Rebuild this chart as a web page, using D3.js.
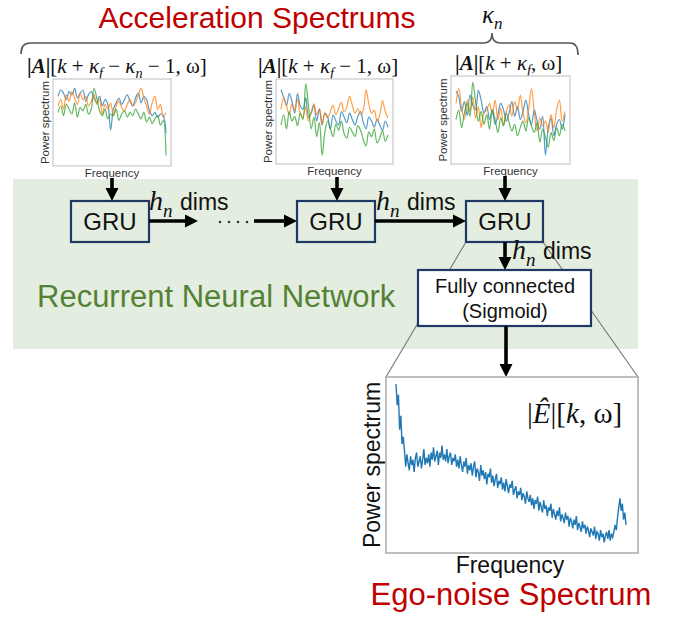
<!DOCTYPE html>
<meta charset="utf-8">
<style>
body { margin: 0; background: #fff; }
text { font-family: "Liberation Sans", Arial, sans-serif; }
.math { font-family: "Liberation Serif", "DejaVu Serif", serif; }
</style>
<svg width="680" height="619"></svg>
<script src="https://d3js.org/d3.v7.min.js"></script>
<script>

var svg = d3.select("svg");

// small spectra (values 0-100)
var p1Blue   = [82,90,86,78,88,84,92,80,86,90,76,84,88,80,74,82,70,78,72,40,66,74,80,72,78,84,76,70,80,86,74,82,78,64,58,62,56,60,58,36];
var p1Orange = [70,78,66,84,76,88,80,72,86,78,82,70,76,84,72,78,60,72,66,74,58,70,76,68,64,72,78,70,74,84,92,80,70,60,74,82,66,72,56,62];
var p1Green  = [62,70,58,72,66,60,74,56,68,64,72,60,66,92,80,64,58,66,54,60,58,66,52,60,64,56,62,58,66,60,54,62,50,56,48,54,58,46,52,8];

var p2Blue   = [90,80,70,85,75,60,85,70,65,80,55,60,70,50,65,45,60,55,40,58,50,45,62,55,48,60,52,45,56,62,48,40,55,50,42,52,45,38,50,42];
var p2Orange = [65,80,70,58,72,64,78,60,55,68,50,62,72,58,66,46,60,54,62,70,58,66,74,62,68,82,70,60,66,58,64,90,72,60,64,50,58,76,62,54];
var p2Green  = [45,58,40,62,50,56,44,60,52,98,70,40,55,30,48,6,36,50,40,30,46,38,50,34,28,42,36,30,44,38,26,18,36,30,40,22,28,38,24,32];

var p3Blue   = [85,78,60,72,55,80,68,62,86,74,58,66,50,62,44,56,70,62,48,58,72,54,66,50,60,74,56,44,62,48,38,54,6,40,52,30,44,50,38,56];
var p3Orange = [70,88,64,50,74,60,78,52,66,40,58,62,70,56,74,50,64,44,60,68,54,72,62,80,58,46,64,88,60,36,52,42,48,34,56,40,62,74,48,60];
var p3Green  = [50,62,40,58,70,54,96,72,48,60,44,56,38,62,50,34,52,42,58,46,36,44,30,40,48,36,52,42,34,46,22,38,28,16,34,24,40,30,44,36];

// estimated ego-noise spectrum
var egoNoise = [96,84,90,70,78,62,66,
  58,49,56,51,47,55,50,53,46,54,57,49,52,55,48,53,59,50,54,51,56,49,57,53,60,52,55,58,50,57,54,61,53,56,52,59,51,55,57,50,54,52,56,49,
  53,48,55,50,46,52,49,54,45,50,47,51,44,49,52,43,48,46,41,50,44,47,42,46,39,45,43,48,40,44,38,42,45,37,41,39,43,36,40,35,
  42,38,34,39,37,41,33,36,38,31,35,33,37,30,34,32,28,35,31,29,33,27,31,25,30,28,32,24,29,26,23,30,25,27,21,26,24,28,20,25,
  22,19,24,21,26,18,22,20,17,23,19,21,15,20,18,14,19,16,21,13,17,15,12,18,14,16,11,15,13,9,14,12,10,15,8,12,11,7,13,9,
  11,6,10,12,8,13,7,11,9,
  12,16,13,20,26,31,24,28,19,23,16];

var seriesColors = ["#1f77b4", "#ff7f0e", "#2ca02c"];

var miniPlots = [
  {x: 53,  y: 79, w: 118, h: 87, series: [p1Blue, p1Orange, p1Green]},
  {x: 276, y: 79, w: 117, h: 85, series: [p2Blue, p2Orange, p2Green]},
  {x: 451, y: 76, w: 119, h: 88, series: [p3Blue, p3Orange, p3Green]}
];

// --- background of the RNN block
svg.append("rect").attr("x", 13).attr("y", 179).attr("width", 625).attr("height", 170)
  .attr("fill", "#e4eee0");

// writes text made of parts: {t, it, b, sub}
function mathText(g, x, y, size, parts, anchor) {
  var t = g.append("text").attr("class", "math").attr("x", x).attr("y", y)
    .attr("font-size", size).attr("fill", "#111").attr("text-anchor", anchor || "start");
  var shifted = false;
  parts.forEach(function(p) {
    var s = t.append("tspan").text(p.t);
    if (p.it) s.attr("font-style", "italic");
    if (p.b) s.attr("font-weight", "bold");
    if (p.sub && !shifted) { s.attr("dy", size * 0.25).attr("font-size", size * 0.68); shifted = true; }
    else if (p.sub) { s.attr("font-size", size * 0.68); }
    else if (shifted) { s.attr("dy", -size * 0.25); shifted = false; }
  });
  return t;
}

// title + brace
svg.append("text").attr("x", 257).attr("y", 28).attr("text-anchor", "middle")
  .attr("font-size", 30).attr("fill", "#c00000").text("Acceleration Spectrums");

mathText(svg, 482, 23, 25, [{t: "κ", it: 1}, {t: "n", it: 1, sub: 1}]);

svg.append("path")
  .attr("d", "M21,54 Q21,43 30,43 L484,43 Q492,43 492,33 Q492,43 500,43 L570,43 Q578,43 578,55")
  .attr("fill", "none").attr("stroke", "#555").attr("stroke-width", 1.6);

var A = [{t: "|", b: 1}, {t: "A", b: 1, it: 1}, {t: "|", b: 1}, {t: "["}, {t: "k", it: 1}, {t: " + "}, {t: "κ", it: 1}, {t: "f", it: 1, sub: 1}];
mathText(svg, 27, 73, 21, A.concat([{t: " − "}, {t: "κ", it: 1}, {t: "n", it: 1, sub: 1}, {t: " − 1, ω]"}]));
mathText(svg, 258, 73, 21, A.concat([{t: " − 1, ω]"}]));
mathText(svg, 455, 70, 21, A.concat([{t: ", ω]"}]));

// --- mini spectra
miniPlots.forEach(function(p) {
  var g = svg.append("g");
  var n = p.series[0].length;
  var x = d3.scaleLinear().domain([0, n - 1]).range([p.x + 5, p.x + p.w - 5]);
  var y = d3.scaleLinear().domain([0, 100]).range([p.y + p.h - 4, p.y + 3]);
  g.append("rect").attr("x", p.x).attr("y", p.y).attr("width", p.w).attr("height", p.h)
    .attr("fill", "#fff").attr("stroke", "#c8c8c8").attr("stroke-width", 1.2);
  var line = d3.line().x(function(d, i) { return x(i); }).y(function(d) { return y(d); })
    .curve(d3.curveCatmullRom);
  p.series.forEach(function(s, k) {
    g.append("path").attr("d", line(s)).attr("fill", "none")
      .attr("stroke", seriesColors[k]).attr("stroke-width", 1.2).attr("stroke-opacity", 0.75);
  });
  g.append("text").attr("transform", "translate(" + (p.x - 4) + "," + (p.y + p.h / 2) + ") rotate(-90)")
    .attr("text-anchor", "middle").attr("font-size", 11.5).attr("fill", "#333").text("Power spectrum");
  g.append("text").attr("x", p.x + p.w / 2).attr("y", p.y + p.h + 11)
    .attr("text-anchor", "middle").attr("font-size", 11.5).attr("fill", "#333").text("Frequency");
});

// --- zoom guide lines
svg.append("line").attr("x1", 466).attr("y1", 242).attr("x2", 386).attr("y2", 377)
  .attr("stroke", "#777").attr("stroke-width", 1.1);
svg.append("line").attr("x1", 543).attr("y1", 242).attr("x2", 638).attr("y2", 377)
  .attr("stroke", "#777").attr("stroke-width", 1.1);

// --- boxes
function box(x, y, w, h, fill) {
  svg.append("rect").attr("x", x).attr("y", y).attr("width", w).attr("height", h)
    .attr("fill", fill).attr("stroke", "#1f3864").attr("stroke-width", 2.2);
}
[[71, 201], [297, 201], [466, 201]].forEach(function(b) {
  box(b[0], b[1], 78 - (b[0] == 466 ? 1 : 0), 41, "none");
  svg.append("text").attr("x", b[0] + 39).attr("y", b[1] + 29).attr("text-anchor", "middle")
    .attr("font-size", 24).attr("fill", "#111").text("GRU");
});
box(418, 270, 173, 56, "#fff");
svg.append("text").attr("x", 505).attr("y", 293).attr("text-anchor", "middle")
  .attr("font-size", 20).attr("fill", "#111").text("Fully connected");
svg.append("text").attr("x", 505).attr("y", 318).attr("text-anchor", "middle")
  .attr("font-size", 20).attr("fill", "#111").text("(Sigmoid)");

svg.append("text").attr("x", 37).attr("y", 307).attr("font-size", 31)
  .attr("fill", "#548235").text("Recurrent Neural Network");

// --- arrows
function arrow(x1, y1, x2, y2) {
  var ang = Math.atan2(y2 - y1, x2 - x1), L = 13, W = 6.5;
  var bx = x2 - L * Math.cos(ang), by = y2 - L * Math.sin(ang);
  svg.append("line").attr("x1", x1).attr("y1", y1).attr("x2", bx).attr("y2", by)
    .attr("stroke", "#000").attr("stroke-width", 3.6);
  svg.append("path").attr("fill", "#000").attr("d",
    "M" + x2 + "," + y2 +
    "L" + (bx - W * Math.sin(ang)) + "," + (by + W * Math.cos(ang)) +
    "L" + (bx + W * Math.sin(ang)) + "," + (by - W * Math.cos(ang)) + "Z");
}
arrow(112, 178, 112, 201);
arrow(337, 177, 337, 201);
arrow(505, 176, 505, 201);
arrow(149, 221, 198, 221);
arrow(254, 221, 297, 221);
arrow(375, 221, 466, 221);
arrow(505, 242, 505, 270);
arrow(506, 326, 506, 377);

[220, 229, 238, 247].forEach(function(cx) {
  svg.append("circle").attr("cx", cx).attr("cy", 222).attr("r", 1.3).attr("fill", "#333");
});

// h_n dims labels
function hdims(x, y) {
  mathText(svg, x, y, 28, [{t: "h", it: 1}, {t: "n", it: 1, sub: 1}]);
  svg.append("text").attr("x", x + 31).attr("y", y).attr("font-size", 23).attr("fill", "#111").text("dims");
}
hdims(149, 210);
hdims(376, 210);
hdims(512, 259);

// --- ego-noise spectrum plot
var big = {x: 386, y: 377, w: 252, h: 176};
var bx = d3.scaleLinear().domain([0, egoNoise.length - 1]).range([big.x + 10, big.x + big.w - 12]);
var by = d3.scaleLinear().domain([0, 100]).range([big.y + big.h, big.y]);
svg.append("rect").attr("x", big.x).attr("y", big.y).attr("width", big.w).attr("height", big.h)
  .attr("fill", "#fff").attr("stroke", "#aaa").attr("stroke-width", 1.5);
svg.append("path")
  .attr("d", d3.line().x(function(d, i) { return bx(i); }).y(function(d) { return by(d); })(egoNoise))
  .attr("fill", "none").attr("stroke", "#1f77b4").attr("stroke-width", 1.4);

mathText(svg, 527, 423, 29, [{t: "|"}, {t: "Ê", it: 1}, {t: "|["}, {t: "k", it: 1}, {t: ", ω]"}]);

svg.append("text").attr("transform", "translate(380,465) rotate(-90)").attr("text-anchor", "middle")
  .attr("font-size", 23).attr("fill", "#111").text("Power spectrum");
svg.append("text").attr("x", 510).attr("y", 573).attr("text-anchor", "middle")
  .attr("font-size", 23).attr("fill", "#111").text("Frequency");
svg.append("text").attr("x", 511).attr("y", 605).attr("text-anchor", "middle")
  .attr("font-size", 31).attr("fill", "#c00000").text("Ego-noise Spectrum");

</script>
